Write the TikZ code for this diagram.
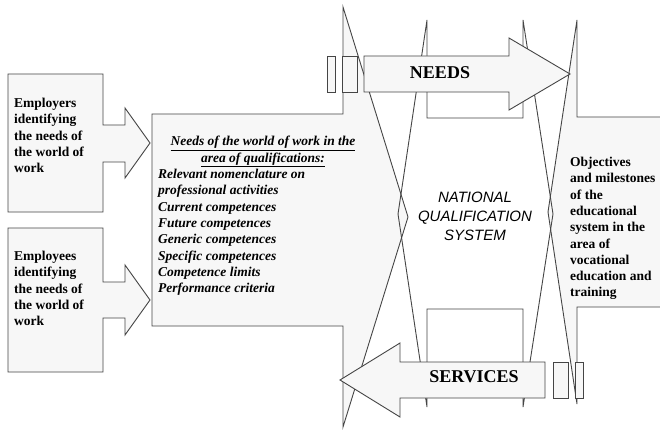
\documentclass[tikz,border=0pt]{standalone}
\usepackage{fontspec}
\setmainfont{Liberation Serif}
\newfontfamily\arialfont{Liberation Sans}
\begin{document}
\begin{tikzpicture}[x=1pt,y=-1pt]
\definecolor{shp}{HTML}{F7F7F7}
\definecolor{edge}{HTML}{454545}
\tikzset{
  blk/.style={draw=edge, fill=shp, line width=0.9pt, line join=miter},
  openblk/.style={draw=edge, line width=0.9pt, line join=miter},
  bodytxt/.style={inner sep=0pt, align=left, font=\fontsize{13.5}{16.3}\selectfont\bfseries},
  itxt/.style={inner sep=0pt, font=\fontsize{13.5}{16.3}\selectfont\bfseries\itshape},
  bigtxt/.style={inner sep=0pt, font=\fontsize{18}{20}\selectfont\bfseries},
}
\useasboundingbox (0,0) rectangle (660,430);
\clip (0,0) rectangle (660,430);
\fill[white] (0,0) rectangle (660,430);
% big right arrow (needs of the world of work)
\path[blk] (152,114) -- (343,114) -- (343,7) -- (408,217) -- (343,427) -- (343,326) -- (152,326) -- cycle;
% right left-arrow (objectives)
\path[blk] (668,117) -- (577,117) -- (577,20) -- (548,212) -- (577,404) -- (577,307) -- (668,307) -- cycle;
% national qualification system double arrow
\path[openblk] (427,20) -- (427,118) -- (523,118) -- (523,20) -- (553,214) -- (523,407) -- (523,309) -- (427,309) -- (427,407) -- (398,214) -- cycle;
% employer / employee callouts
\path[blk] (8,74) -- (103,74) -- (103,125) -- (125,125) -- (125,108) -- (150,143) -- (125,178) -- (125,162) -- (103,162) -- (103,212) -- (8,212) -- cycle;
\path[blk] (8,228) -- (103,228) -- (103,282) -- (125,282) -- (125,265) -- (150,300) -- (125,335) -- (125,318) -- (103,318) -- (103,372) -- (8,372) -- cycle;
% NEEDS arrow
\path[blk] (364,56) -- (509,56) -- (509,38) -- (570,74) -- (509,110) -- (509,92) -- (364,92) -- cycle;
\path[blk] (327,56) rectangle (335,92);
\path[blk] (342,56) rectangle (357,92);
% SERVICES arrow
\path[blk] (545,362) -- (400,362) -- (400,343) -- (340,380) -- (400,417) -- (400,398) -- (545,398) -- cycle;
\path[blk] (553,362) rectangle (568,398);
\path[blk] (575,362) rectangle (583,398);
% texts
\node[bodytxt, anchor=north west] (employers) at (14,98) {Employers\\identifying\\the needs of\\the world of\\work};
\node[bodytxt, anchor=north west] (employees) at (14,251) {Employees\\identifying\\the needs of\\the world of\\work};
\node[itxt, align=center, anchor=north] (needshead) at (263,136) {\underline{Needs of the world of work in the}\\\underline{area of qualifications:}};
\node[itxt, align=left, anchor=north west] (needslist) at (158,169) {Relevant nomenclature on\\professional activities\\Current competences\\Future competences\\Generic competences\\Specific competences\\Competence limits\\Performance criteria};
\node[inner sep=0pt, align=center, anchor=north, font=\fontsize{15}{19}\selectfont\arialfont\itshape] (nqs) at (475,192) {NATIONAL\\QUALIFICATION\\SYSTEM};
\node[bodytxt, anchor=north west] (objectives) at (570,157) {Objectives\\and milestones\\of the\\educational\\system in the\\area of\\vocational\\education and\\training};
\node[bigtxt] (needs) at (440,73) {NEEDS};
\node[bigtxt] (services) at (474,377) {SERVICES};
\end{tikzpicture}
\end{document}
